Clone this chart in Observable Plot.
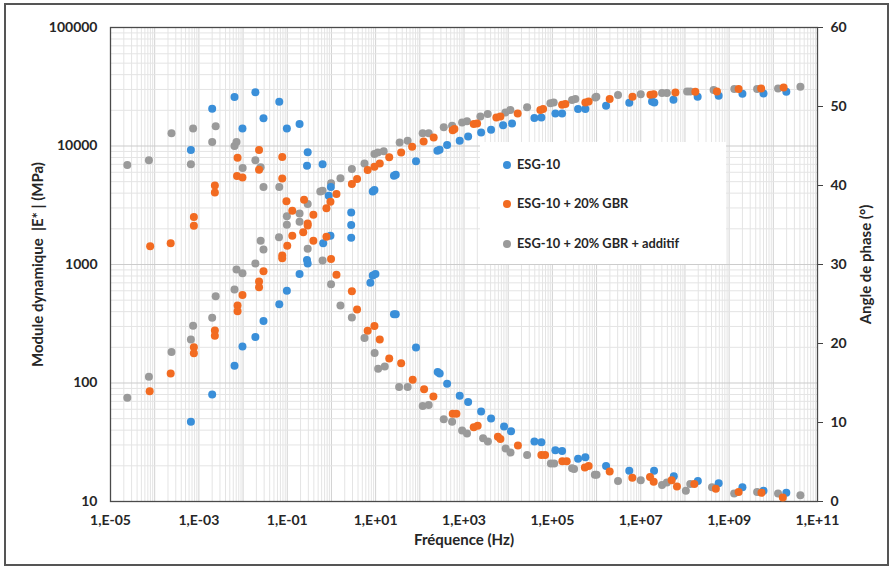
<!DOCTYPE html>
<html><head><meta charset="utf-8">
<script src="https://cdn.jsdelivr.net/npm/d3@7"></script>
<script src="https://cdn.jsdelivr.net/npm/@observablehq/plot@0.6"></script>
<style>
body{margin:0;background:#fff;}
#wrap{position:relative;width:893px;height:567px;font-family:Lato,"Open Sans",sans-serif;font-weight:bold;color:#262626;}
#wrap svg{position:absolute;left:0;top:0;}
#border{position:absolute;left:4px;top:3px;width:881px;height:559px;border:2px solid #555;pointer-events:none;}
#legend{position:absolute;left:480px;top:142px;width:246px;height:122px;background:#fff;font-size:12.8px;}
#legend .it{position:absolute;left:23px;height:16px;line-height:16px;white-space:nowrap;}
#legend .dot{display:inline-block;width:8px;height:8px;border-radius:50%;vertical-align:middle;margin-right:6px;position:relative;top:-1px;}
</style></head>
<body>
<div id="wrap"><div id="chart"></div><div id="legend"></div><div id="border"></div></div>
<script>
const seriesNames = ["ESG-10", "ESG-10 + 20% GBR", "ESG-10 + 20% GBR + additif"];
const seriesColors = ["#3a8fd9", "#f26b21", "#9a9a9a"];

// ESG-10 : module |E*| (MPa)
const esgModF = [6.6e-4,2.0e-3,6.4e-3,9.7e-3,1.9e-2,2.9e-2,6.6e-2,9.8e-2,0.19,0.28,0.29,0.65,0.95,2.8,8.6,9.4,26,28.5,82,250,280,415,800,1240,2440,4100,7670,12200,39200,56400,117000,166000,381000,558000,1.64e6,5.5e6,1.8e7,2.03e7,5.5e7,1.94e8,5.8e8,2.0e9,6.0e9,1.97e10];
const esgModE = [47,80,140,203,245,334,462,599,833,1090,1020,1510,1750,2750,4140,4250,5620,5730,7420,9130,9300,10200,11100,12000,13000,13700,15000,15500,17200,17400,18800,18800,20500,20500,21900,23200,23800,23300,24600,26000,26500,27600,27700,28700];
// ESG-10 : angle de phase (°)
const esgPhF = [6.6e-4,2.0e-3,6.4e-3,9.7e-3,1.9e-2,2.9e-2,6.6e-2,9.8e-2,0.19,0.29,0.28,0.63,0.97,0.87,2.8,2.8,7.6,8.6,9.9,26,28.5,82,254,282,415,800,1240,2440,4100,8070,11600,39200,56400,117000,166000,381000,558000,1.64e6,5.5e6,2.0e7,5.6e7,1.96e8,5.8e8,2.0e9,6.0e9,1.97e10];
const esgPhA = [44.5,49.7,51.2,47.2,51.8,48.5,50.6,47.2,47.8,44.2,42.5,42.7,39.8,38.7,35.0,33.4,27.7,28.6,28.8,23.7,23.7,19.5,16.4,16.2,14.9,13.4,12.6,11.4,10.5,9.5,8.9,7.6,7.5,6.5,6.4,5.4,5.6,4.5,3.9,3.9,3.2,2.6,2.3,1.8,1.35,1.1];

// ESG-10 + 20% GBR : module
const gbrModF = [7.7e-5,2.3e-4,7.7e-4,7.7e-4,2.3e-3,2.3e-3,7.5e-3,7.5e-3,9.7e-3,2.3e-2,2.3e-2,2.9e-2,7.7e-2,7.7e-2,0.10,0.13,0.23,0.29,0.29,0.39,0.77,0.95,1.3,2.9,3.8,6.6,9.4,12.4,20.3,37.8,67,122,206,555,607,1660,1980,5400,6660,16400,53500,61600,166000,197000,558000,662000,1.98e6,6.5e6,1.66e7,1.96e7,6.1e7,1.72e8,5.3e8,1.64e9,5.3e9,1.71e10];
const gbrModE = [85,120,200,178,277,251,450,403,554,718,642,876,1190,1130,1440,1750,1870,2220,2130,2630,2980,3390,3940,4780,5270,6280,6690,7130,8020,8830,9860,10900,11800,13600,13900,15300,15500,17400,17700,18800,20100,20500,22300,22600,23300,23800,24900,26000,27100,27400,28300,28700,28900,30200,30600,31200];
// ESG-10 + 20% GBR : phase
const gbrPhF = [7.9e-5,2.3e-4,7.7e-4,7.7e-4,2.3e-3,2.3e-3,7.3e-3,9.7e-3,7.5e-3,2.3e-2,2.3e-2,7.7e-2,7.7e-2,9.6e-2,0.13,0.24,0.39,0.77,0.98,1.3,2.9,3.8,6.6,9.4,12.4,20.3,37.8,69,125,203,555,673,1660,2040,5850,6660,16600,56400,68400,168000,211000,543000,662000,1.98e6,6.45e6,1.62e7,1.96e7,5.0e7,6.6e7,1.63e8,5.0e8,1.64e9,5.4e9,1.64e10];
const gbrPhA = [32.3,32.7,36.0,34.9,40.0,39.1,41.2,41.0,43.5,44.5,42.0,43.6,40.9,38.0,36.8,38.2,33.0,33.5,30.7,28.7,26.6,24.3,21.6,22.2,20.5,18.1,17.5,15.4,14.2,13.3,11.1,11.1,9.4,9.6,8.2,7.9,7.1,5.9,5.9,5.1,5.1,4.3,4.5,3.8,3.0,3.1,2.5,2.7,1.9,2.2,1.6,1.2,1.1,0.5];

// ESG-10 + 20% GBR + additif : module
const addModF = [2.4e-5,7.4e-5,2.4e-4,6.6e-4,7.4e-4,2.0e-3,2.4e-3,6.4e-3,7.1e-3,9.7e-3,1.9e-2,2.5e-2,2.9e-2,6.5e-2,9.8e-2,0.19,0.29,0.56,0.63,0.98,1.6,2.9,5.6,9.4,11.2,15.2,35,53,116,159,348,538,906,1170,2350,3440,8650,11200,26800,90100,107000,279000,331000,940000,990000,3.06e6,1.0e7,3.03e7,3.9e7,1.12e8,1.32e8,4.46e8,1.31e9,4.3e9,1.28e10,4.1e10];
const addModE = [75,113,183,233,304,355,540,614,906,843,1020,1590,1340,1700,2160,2700,3240,4140,4200,4840,5350,6400,7130,8560,8830,9010,10700,11100,12800,12800,14400,14800,15800,16200,17700,18600,19200,20100,21200,22900,23300,24400,24900,25700,26000,26900,27400,28000,28000,28900,28900,29700,30200,30200,30600,31600];
// ESG-10 + 20% GBR + additif : phase
const addPhF = [2.4e-5,7.4e-5,2.4e-4,6.6e-4,7.4e-4,2.0e-3,2.4e-3,6.4e-3,7.1e-3,9.8e-3,1.9e-2,2.5e-2,2.9e-2,6.6e-2,9.8e-2,0.19,0.29,0.63,0.98,1.6,2.9,5.6,9.5,11.4,16.1,34,53,116,159,348,538,906,1170,2700,3470,8780,11300,26800,92500,110000,279000,310000,914000,1.0e6,3.06e6,1.0e7,3.03e7,3.9e7,1.05e8,1.32e8,4.1e8,1.3e9,4.3e9,1.28e10,4.1e10];
const addPhA = [42.6,43.2,46.6,42.7,47.2,45.5,47.5,45.0,45.5,42.2,43.2,42.3,39.8,39.8,36.1,35.4,32.0,30.5,27.5,24.8,23.3,20.7,18.8,16.8,17.1,14.5,14.5,12.1,12.2,10.4,10.1,9.0,8.6,8.0,7.6,6.7,6.2,5.9,4.8,4.8,4.2,4.1,3.4,3.4,2.6,2.7,2.1,2.4,1.35,2.2,1.8,1.0,1.2,1.0,0.8];

const xLabelTicks = [1e-5,1e-3,1e-1,1e1,1e3,1e5,1e7,1e9,1e11];
const yLeftTicks = [10,100,1000,10000,100000];
const yRightTicks = [0,10,20,30,40,50,60];

// phase (0..60°) placed on the log modulus scale (10..100000)
const phaseToY = a => Math.pow(10, 1 + a * 4 / 60);

const rows = [];
function addRows(s, F, V, isPhase) {
  F.forEach((f, i) => rows.push({series: s, f, y: isPhase ? phaseToY(V[i]) : V[i]}));
}
addRows(2, addModF, addModE, false); addRows(2, addPhF, addPhA, true);
addRows(0, esgModF, esgModE, false); addRows(0, esgPhF, esgPhA, true);
addRows(1, gbrModF, gbrModE, false); addRows(1, gbrPhF, gbrPhA, true);

const minorX = [], majorX = [], minorY = [];
for (let k = -5; k <= 10; k++) for (let m = 2; m <= 9; m++) minorX.push(m * Math.pow(10, k));
for (let k = -5; k <= 11; k++) majorX.push(Math.pow(10, k));
for (let k = 1; k <= 4; k++) for (let m = 2; m <= 9; m++) minorY.push(m * Math.pow(10, k));

const fmtX = d => { const e = Math.round(Math.log10(d)); return "1,E" + (e < 0 ? "-" : "+") + String(Math.abs(e)).padStart(2, "0"); };

const chart = Plot.plot({
  width: 893, height: 567,
  marginLeft: 110, marginRight: 76, marginTop: 27, marginBottom: 66,
  x: {type: "log", domain: [1e-5, 1e11]},
  y: {type: "log", domain: [10, 100000]},
  style: {fontFamily: "Lato, 'Open Sans', sans-serif", fontSize: "14px", fontWeight: "bold", color: "#262626", background: "transparent"},
  marks: [
    Plot.ruleX(minorX, {stroke: "#e4e4e4", strokeWidth: 1}),
    Plot.ruleX(majorX, {stroke: "#d2d2d2", strokeWidth: 1}),
    Plot.ruleY(minorY, {stroke: "#e4e4e4", strokeWidth: 1}),
    Plot.ruleY(yLeftTicks, {stroke: "#cccccc", strokeWidth: 1.2}),
    Plot.axisX({ticks: xLabelTicks, tickFormat: fmtX, tickSize: 0, tickPadding: 14, label: null, fontSize: 14}),
    Plot.axisY({anchor: "left", ticks: yLeftTicks, tickFormat: d => String(d), tickSize: 0, tickPadding: 13, label: null, fontSize: 14}),
    Plot.axisY({anchor: "right", ticks: yRightTicks.map(phaseToY), tickFormat: () => "", tickSize: 5, label: null, stroke: "#404040"}),
    Plot.text(yRightTicks, {y: phaseToY, text: d => String(d), frameAnchor: "right", dx: 13, textAnchor: "start", fontSize: 14, fontWeight: "bold"}),
    Plot.frame({stroke: "#4a4a4a", strokeWidth: 1.3}),
    Plot.text(["Fréquence (Hz)"], {frameAnchor: "bottom", dy: 43, fontWeight: "bold", fontSize: 15}),
    Plot.text(["Module dynamique  |E* | (MPa)"], {frameAnchor: "left", dx: -72, rotate: -90, textAnchor: "middle", fontWeight: "bold", fontSize: 15}),
    Plot.text(["Angle de phase (°)"], {frameAnchor: "right", dx: 49, rotate: -90, textAnchor: "middle", fontWeight: "bold", fontSize: 15}),
    Plot.dot(rows, {x: "f", y: "y", r: 4, fill: d => seriesColors[d.series], stroke: "none"})
  ]
});
document.getElementById("chart").appendChild(chart);

const legend = document.getElementById("legend");
const legendTops = [14, 53, 93];
seriesNames.forEach((name, i) => {
  const it = document.createElement("div");
  it.className = "it";
  it.style.top = legendTops[i] + "px";
  it.innerHTML = `<span class="dot" style="background:${seriesColors[i]}"></span>${name}`;
  legend.appendChild(it);
});
</script>
</body></html>
